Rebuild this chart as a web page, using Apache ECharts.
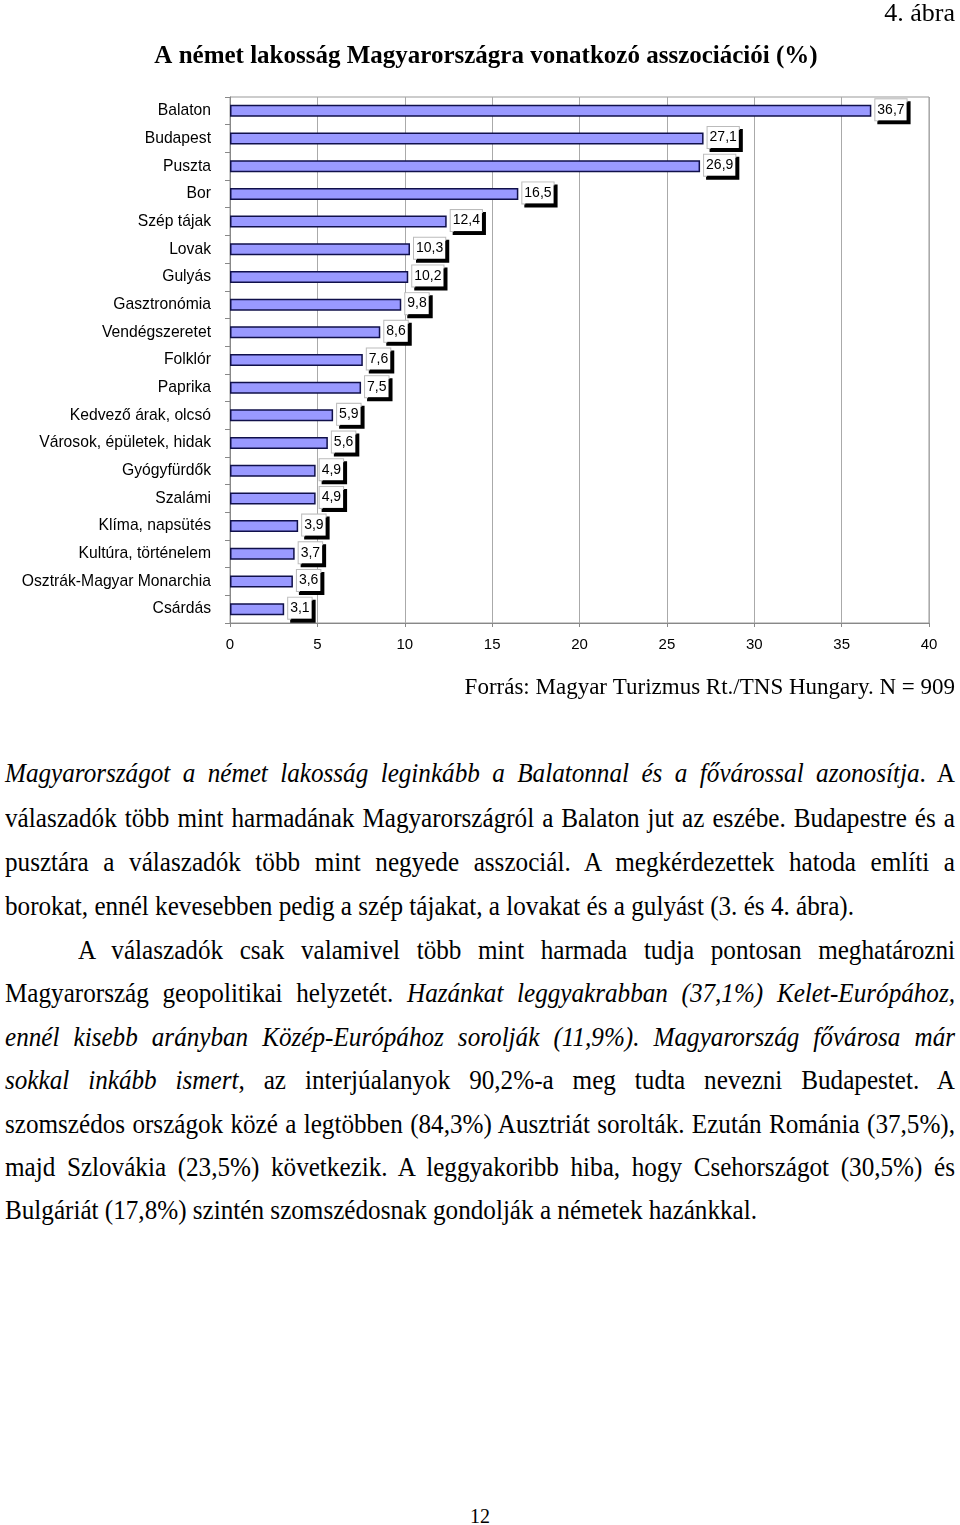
<!DOCTYPE html>
<html>
<head>
<meta charset="utf-8">
<script src="https://cdn.jsdelivr.net/npm/echarts@6/dist/echarts.min.js"></script>
<style>
  html, body { margin:0; padding:0; background:#fff; }
  body { width:960px; height:1525px; position:relative; overflow:hidden; }
  #chart { position:absolute; left:0; top:0; width:960px; height:720px; }
  .line { position:absolute; left:5px; font-family:"Liberation Serif","Times New Roman",serif; font-size:25px; color:#000; white-space:nowrap; transform-origin:0 50%; line-height:30px; height:30px; }
  .just { text-align:justify; text-align-last:justify; white-space:normal; }
  #pg { position:absolute; top:1504px; left:0; width:960px; text-align:center; font-family:"Liberation Serif",serif; font-size:20px; transform:scaleY(1.1); }
</style>
</head>
<body>
<div id="chart"></div>
<div id="text"></div>
<div id="pg">12</div>
<script>
const categories = ["Balaton","Budapest","Puszta","Bor","Szép tájak","Lovak","Gulyás","Gasztronómia","Vendégszeretet","Folklór","Paprika","Kedvező árak, olcsó","Városok, épületek, hidak","Gyógyfürdők","Szalámi","Klíma, napsütés","Kultúra, történelem","Osztrák-Magyar Monarchia","Csárdás"];
const values = [36.7,27.1,26.9,16.5,12.4,10.3,10.2,9.8,8.6,7.6,7.5,5.9,5.6,4.9,4.9,3.9,3.7,3.6,3.1];
const xTicks = {min:0, max:40, interval:5};

const chart = echarts.init(document.getElementById('chart'), null, {renderer:'canvas'});
chart.setOption({
  animation:false,
  title:{
    text:'A német lakosság Magyarországra vonatkozó asszociációi (%)',
    left:481, top:39, textAlign:'center',
    textStyle:{fontFamily:'Liberation Serif', fontWeight:'bold', fontSize:25, color:'#000'}
  },
  graphic:[
    {type:'text', right:5, top:1, style:{text:'4. ábra', font:'26px "Liberation Serif"', fill:'#000'}},
    {type:'text', right:5, top:676, style:{text:'Forrás: Magyar Turizmus Rt./TNS Hungary. N = 909', font:'23px "Liberation Serif"', fill:'#000'}}
  ],
  grid:{left:230, right:31, top:97, height:526, show:true, borderColor:'#999', borderWidth:1, backgroundColor:'#fff'},
  xAxis:{
    type:'value', min:xTicks.min, max:xTicks.max, interval:xTicks.interval,
    axisLine:{show:true, lineStyle:{color:'#888'}},
    axisTick:{show:true, length:4, lineStyle:{color:'#888'}},
    splitLine:{show:true, lineStyle:{color:'#aaa', width:1}},
    axisLabel:{fontFamily:'Liberation Sans', fontSize:15, color:'#000', margin:14}
  },
  yAxis:{
    type:'category', data:categories, inverse:true,
    axisLine:{show:true, lineStyle:{color:'#888'}},
    axisTick:{show:true, length:5, lineStyle:{color:'#888'}},
    axisLabel:{fontFamily:'Liberation Sans', fontSize:15.7, color:'#000', margin:19}
  },
  series:[{
    type:'bar', data:values, barWidth:12,
    itemStyle:{color:'#9999ff', borderColor:'#10104a', borderWidth:1.5},
    label:{
      show:true, position:'right', distance:4,
      formatter:p=>String(p.value).replace('.',','),
      fontFamily:'Liberation Sans', fontSize:14, color:'#000',
      backgroundColor:'#fff', borderColor:'#bbb', borderWidth:1,
      padding:[4,2,3,2], shadowColor:'#000', shadowOffsetX:3, shadowOffsetY:3, shadowBlur:0,
      offset:[0,-1]
    }
  }]
});

const lines = [
  {y:773, html:'<i>Magyarországot a német lakosság leginkább a Balatonnal és a fővárossal azonosítja</i>. A', j:true},
  {y:818, html:'válaszadók több mint harmadának Magyarországról a Balaton jut az eszébe. Budapestre és a', j:true},
  {y:862, html:'pusztára a válaszadók több mint negyede asszociál. A megkérdezettek hatoda említi a', j:true},
  {y:906, html:'borokat, ennél kevesebben pedig a szép tájakat, a lovakat és a gulyást (3. és 4. ábra).', j:false},
  {y:950, html:'A válaszadók csak valamivel több mint harmada tudja pontosan meghatározni', j:true, indent:73},
  {y:993, html:'Magyarország geopolitikai helyzetét. <i>Hazánkat leggyakrabban (37,1%) Kelet-Európához,</i>', j:true},
  {y:1037, html:'<i>ennél kisebb arányban Közép-Európához sorolják (11,9%). Magyarország fővárosa már</i>', j:true},
  {y:1080, html:'<i>sokkal inkább ismert</i>, az interjúalanyok 90,2%-a meg tudta nevezni Budapestet. A', j:true},
  {y:1124, html:'szomszédos országok közé a legtöbben (84,3%) Ausztriát sorolták. Ezután Románia (37,5%),', j:true},
  {y:1167, html:'majd Szlovákia (23,5%) következik. A leggyakoribb hiba, hogy Csehországot (30,5%) és', j:true},
  {y:1210, html:'Bulgáriát (17,8%) szintén szomszédosnak gondolják a németek hazánkkal.', j:false}
];
const holder = document.getElementById('text');
const probe = document.createElement('div');
probe.className = 'line';
probe.style.visibility = 'hidden';
probe.innerHTML = lines[10].html;
holder.appendChild(probe);
const s = 752 / probe.getBoundingClientRect().width;
holder.removeChild(probe);
lines.forEach(l => {
  const d = document.createElement('div');
  const ind = l.indent || 0;
  d.className = 'line' + (l.j ? ' just' : '');
  d.style.top = (l.y - 15) + 'px';
  d.style.left = (5 + ind) + 'px';
  if (l.j) d.style.width = ((950 - ind) / s) + 'px';
  d.style.transform = 'scale(' + s + ',1.12)';
  d.innerHTML = l.html;
  holder.appendChild(d);
});
</script>
</body>
</html>
